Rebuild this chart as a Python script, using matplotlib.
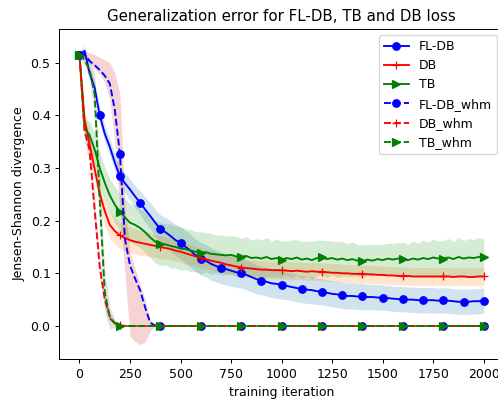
import matplotlib
matplotlib.use("Agg")
import matplotlib.pyplot as plt
from matplotlib.ticker import MultipleLocator
import numpy as np

# -----------------------------
# Data (one value every 25 iterations, 0..2000)
# -----------------------------
iters = list(range(0, 2001, 25))

fldb = [0.515, 0.522, 0.480, 0.452, 0.400, 0.365, 0.340, 0.310,
        0.284, 0.271, 0.259, 0.246, 0.234, 0.221, 0.209, 0.196,
        0.184, 0.178, 0.171, 0.163, 0.158, 0.150, 0.143, 0.134,
        0.128, 0.124, 0.118, 0.114, 0.110, 0.108, 0.105, 0.102,
        0.101, 0.097, 0.093, 0.089, 0.086, 0.084, 0.081, 0.080,
        0.078, 0.076, 0.074, 0.072, 0.070, 0.069, 0.068, 0.066,
        0.065, 0.063, 0.061, 0.060, 0.058, 0.057, 0.057, 0.056,
        0.056, 0.055, 0.055, 0.054, 0.054, 0.053, 0.052, 0.051,
        0.051, 0.050, 0.050, 0.049, 0.049, 0.049, 0.049, 0.048,
        0.049, 0.048, 0.047, 0.046, 0.046, 0.046, 0.047, 0.047,
        0.048]
fldb_std = [0.005, 0.010, 0.012, 0.013, 0.014, 0.015, 0.016, 0.017,
            0.018, 0.019, 0.020, 0.021, 0.022, 0.024, 0.025, 0.026,
            0.027, 0.028, 0.029, 0.030, 0.030, 0.031, 0.031, 0.031,
            0.031, 0.031, 0.031, 0.030, 0.030, 0.030, 0.029, 0.029,
            0.029, 0.028, 0.028, 0.028, 0.027, 0.027, 0.027, 0.027,
            0.027, 0.026, 0.026, 0.026, 0.026, 0.026, 0.026, 0.025,
            0.025, 0.025, 0.025, 0.025, 0.025, 0.025, 0.025, 0.025,
            0.025, 0.024, 0.024, 0.024, 0.024, 0.024, 0.024, 0.024,
            0.024, 0.024, 0.024, 0.024, 0.024, 0.024, 0.024, 0.024,
            0.024, 0.024, 0.024, 0.024, 0.024, 0.024, 0.024, 0.024,
            0.024]

db = [0.515, 0.392, 0.345, 0.298, 0.252, 0.218, 0.192, 0.180,
      0.172, 0.167, 0.163, 0.160, 0.158, 0.156, 0.154, 0.152,
      0.150, 0.148, 0.146, 0.143, 0.141, 0.138, 0.135, 0.132,
      0.129, 0.127, 0.124, 0.122, 0.120, 0.117, 0.115, 0.113,
      0.111, 0.110, 0.109, 0.108, 0.107, 0.107, 0.106, 0.106,
      0.106, 0.105, 0.104, 0.105, 0.104, 0.103, 0.104, 0.103,
      0.103, 0.102, 0.101, 0.101, 0.100, 0.100, 0.099, 0.099,
      0.099, 0.098, 0.098, 0.097, 0.097, 0.096, 0.096, 0.095,
      0.095, 0.095, 0.094, 0.094, 0.094, 0.094, 0.094, 0.094,
      0.094, 0.094, 0.093, 0.094, 0.094, 0.093, 0.093, 0.094,
      0.094]
db_std = [0.005, 0.020, 0.022, 0.024, 0.025, 0.025, 0.025, 0.025,
          0.025, 0.025, 0.025, 0.024, 0.024, 0.023, 0.023, 0.022,
          0.022, 0.021, 0.021, 0.020, 0.020, 0.020, 0.019, 0.019,
          0.019, 0.018, 0.018, 0.018, 0.018, 0.018, 0.017, 0.017,
          0.017, 0.017, 0.017, 0.017, 0.017, 0.017, 0.017, 0.017,
          0.017, 0.017, 0.017, 0.017, 0.017, 0.017, 0.017, 0.017,
          0.017, 0.017, 0.017, 0.017, 0.017, 0.017, 0.017, 0.017,
          0.017, 0.017, 0.017, 0.017, 0.017, 0.017, 0.017, 0.017,
          0.017, 0.017, 0.017, 0.017, 0.017, 0.017, 0.017, 0.017,
          0.017, 0.017, 0.017, 0.017, 0.017, 0.017, 0.017, 0.017,
          0.017]

tb = [0.515, 0.375, 0.362, 0.335, 0.300, 0.272, 0.248, 0.230,
      0.217, 0.206, 0.196, 0.192, 0.186, 0.178, 0.168, 0.160,
      0.156, 0.155, 0.152, 0.150, 0.147, 0.146, 0.143, 0.141,
      0.139, 0.140, 0.137, 0.136, 0.135, 0.134, 0.135, 0.132,
      0.131, 0.133, 0.129, 0.130, 0.128, 0.131, 0.127, 0.129,
      0.126, 0.129, 0.127, 0.130, 0.126, 0.128, 0.125, 0.129,
      0.130, 0.127, 0.129, 0.126, 0.128, 0.125, 0.127, 0.124,
      0.123, 0.126, 0.124, 0.127, 0.125, 0.128, 0.126, 0.128,
      0.127, 0.125, 0.128, 0.126, 0.129, 0.127, 0.130, 0.128,
      0.128, 0.130, 0.127, 0.131, 0.128, 0.130, 0.129, 0.131,
      0.130]
tb_std = [0.005, 0.020, 0.025, 0.030, 0.030, 0.030, 0.032, 0.034,
          0.035, 0.036, 0.036, 0.038, 0.037, 0.039, 0.038, 0.040,
          0.041, 0.039, 0.042, 0.040, 0.041, 0.039, 0.040, 0.038,
          0.040, 0.037, 0.039, 0.036, 0.038, 0.037, 0.036, 0.038,
          0.035, 0.037, 0.034, 0.036, 0.035, 0.037, 0.034, 0.036,
          0.035, 0.033, 0.036, 0.034, 0.035, 0.033, 0.036, 0.034,
          0.033, 0.035, 0.032, 0.034, 0.033, 0.031, 0.033, 0.030,
          0.031, 0.029, 0.030, 0.028, 0.030, 0.029, 0.031, 0.030,
          0.032, 0.030, 0.033, 0.031, 0.034, 0.032, 0.035, 0.033,
          0.034, 0.036, 0.033, 0.037, 0.034, 0.036, 0.035, 0.037,
          0.035]

fldb_whm = [0.515, 0.515, 0.503, 0.495, 0.486, 0.475, 0.460, 0.410,
            0.327, 0.165, 0.115, 0.090, 0.068, 0.035, 0.006, 0.001] + [0.0] * 65
fldb_whm_lo = [0.510, 0.510, 0.498, 0.488, 0.478, 0.462, 0.430, 0.350,
               0.220, 0.100, -0.020, -0.030, -0.035, -0.030, -0.010, 0.0] + [0.0] * 65
fldb_whm_hi = [0.520, 0.525, 0.518, 0.515, 0.510, 0.505, 0.500, 0.480,
               0.440, 0.230, 0.140, 0.110, 0.080, 0.050, 0.012, 0.0] + [0.0] * 65

db_whm = [0.515, 0.370, 0.334, 0.220, 0.113, 0.050, 0.018, 0.005,
          0.001] + [0.0] * 72
db_whm_std = [0.005, 0.020, 0.030, 0.030, 0.022, 0.015, 0.008, 0.003,
              0.001] + [0.0] * 72

tb_whm = [0.515, 0.505, 0.486, 0.440, 0.240, 0.065, 0.015, 0.005,
          0.0] + [0.0] * 72
tb_whm_std = [0.005, 0.010, 0.020, 0.040, 0.050, 0.040, 0.020, 0.008,
              0.0] + [0.0] * 72

names = ["FL-DB", "DB", "TB", "FL-DB_whm", "DB_whm", "TB_whm"]
means = [fldb, db, tb, fldb_whm, db_whm, tb_whm]
lows = [np.subtract(fldb, fldb_std), np.subtract(db, db_std), np.subtract(tb, tb_std),
        fldb_whm_lo, np.subtract(db_whm, db_whm_std), np.subtract(tb_whm, tb_whm_std)]
highs = [np.add(fldb, fldb_std), np.add(db, db_std), np.add(tb, tb_std),
         fldb_whm_hi, np.add(db_whm, db_whm_std), np.add(tb_whm, tb_whm_std)]
fmts = ["b-o", "r-+", "g->", "b--o", "r--+", "g-->"]
every = [4, 8, 8, 8, 8, 8]

# -----------------------------
# Plot
# -----------------------------
fig = plt.figure(figsize=(498 / 90, 400 / 90), dpi=90)
ax = fig.add_axes([0.119, 0.102, 0.893, 0.826])

for i in range(len(names)):
    ax.plot(iters, means[i], fmts[i], label=names[i], markevery=every[i])
    ax.fill_between(iters, lows[i], highs[i], color=f"C{i}", alpha=0.2, linewidth=0)

ax.set_xlim(-100, 2100)
ax.set_ylim(-0.063, 0.564)
ax.xaxis.set_major_locator(MultipleLocator(250))
ax.yaxis.set_major_locator(MultipleLocator(0.1))

ax.set_xlabel("training iteration")
ax.set_ylabel("Jensen-Shannon divergence")
ax.set_title("Generalization error for FL-DB, TB and DB loss")

ax.legend(loc="upper right", bbox_to_anchor=(497 / 498, 1 - 35 / 400),
          bbox_transform=fig.transFigure, borderaxespad=0)

fig.savefig("out.png", dpi=90)
